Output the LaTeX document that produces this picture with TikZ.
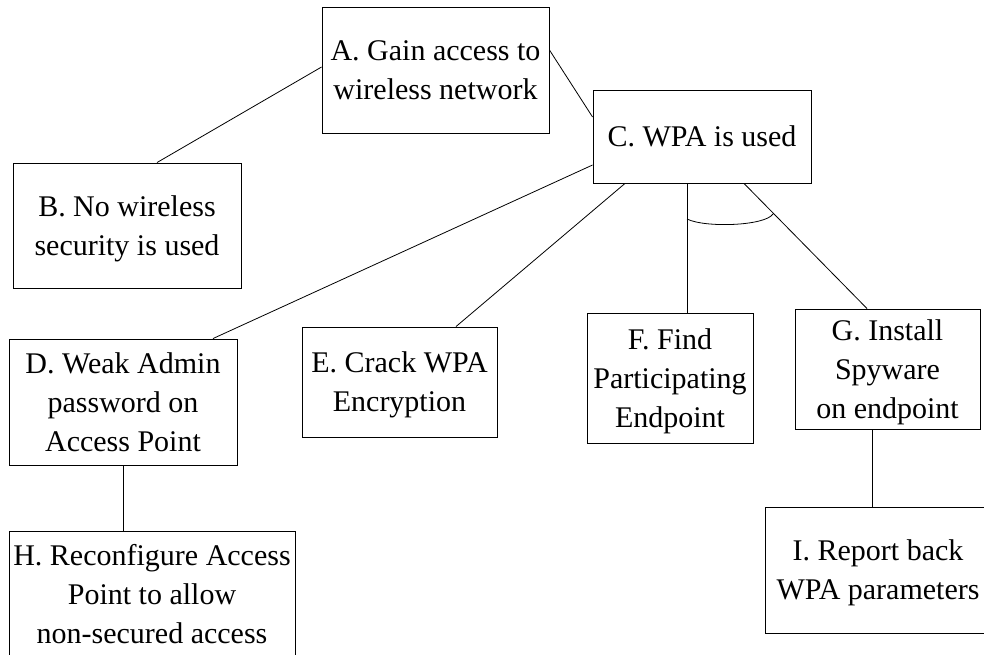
\documentclass[tikz,border=0pt]{standalone}
\usepackage{fontspec}
\setmainfont{Liberation Serif}
\begin{document}
\begin{tikzpicture}[x=1pt,y=-1pt,
  box/.style={draw, line width=0.9pt, inner sep=0pt, align=center,
    text depth=-1pt, font=\fontsize{30}{39}\selectfont},
  link/.style={line width=0.8pt}]
\useasboundingbox (0,0) rectangle (984,655);
\clip (0,0) rectangle (984,655);

% goal boxes
\node[box, minimum width=227pt, minimum height=126pt] (A) at (435.5,70)
  {A. Gain access to\\wireless network};
\node[box, minimum width=228pt, minimum height=125pt] (B) at (127,225.5)
  {B. No wireless\\security is used};
\node[box, minimum width=218pt, minimum height=93pt] (C) at (702,136.5)
  {C. WPA is used};
\node[box, minimum width=228pt, minimum height=126pt] (D) at (123,402)
  {D. Weak Admin\\password on\\Access Point};
\node[box, minimum width=195pt, minimum height=110pt] (E) at (399.5,382)
  {E. Crack WPA\\Encryption};
\node[box, minimum width=166pt, minimum height=130pt] (F) at (670,378)
  {F. Find\\Participating\\Endpoint};
\node[box, minimum width=185pt, minimum height=120pt] (G) at (887.5,369)
  {G. Install\\Spyware\\on endpoint};
\node[box, minimum width=286pt, minimum height=126pt] (H) at (152,594)
  {H. Reconfigure Access\\Point to allow\\non-secured access};
\node[box, minimum width=226pt, minimum height=126pt] (I) at (878,570)
  {I. Report back\\WPA parameters};

% connectors
\draw[link] ([yshift=3pt]A.west) -- ([xshift=30pt]B.north);
\draw[link] ([yshift=20pt]A.east) -- ([yshift=19.5pt]C.west);
\draw[link] ([yshift=-28.5pt]C.west) -- ([xshift=90pt]D.north);
\draw[link] ([xshift=-77pt]C.south) -- ([xshift=56.5pt]E.north);
\draw[link] ([xshift=-15pt]C.south) -- ([xshift=17pt]F.north);
\draw[link] ([xshift=42pt]C.south) -- ([xshift=-20.5pt]G.north);
\draw[link] (D.south) -- ([xshift=-29pt]H.north);
\draw[link] ([xshift=-15.5pt]G.south) -- ([xshift=-6pt]I.north);

% AND arc joining the F and G branches
\coordinate (andL) at (687,219);
\coordinate (andR) at (773,214);
\draw[link] (andL) .. controls (705,228) and (765,226) .. (andR);
\end{tikzpicture}
\end{document}
